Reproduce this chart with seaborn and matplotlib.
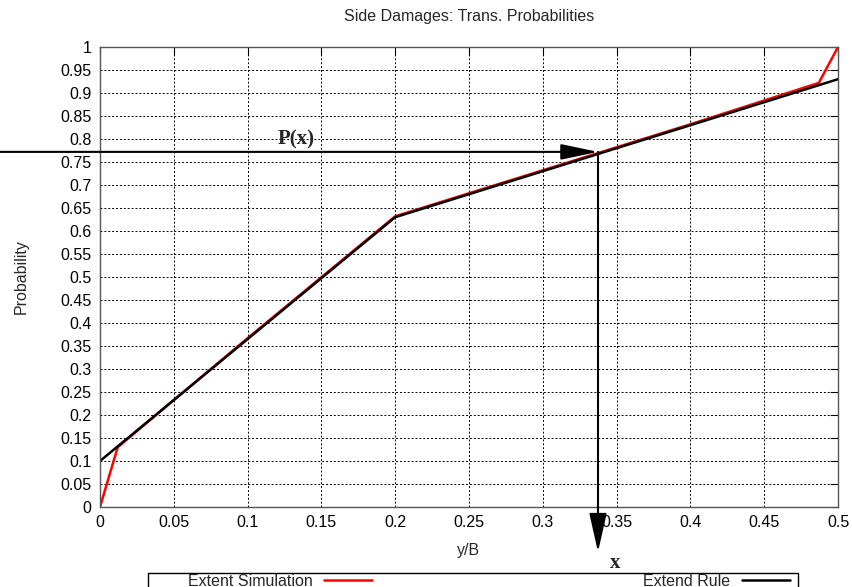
import pandas as pd
import matplotlib.pyplot as plt
import seaborn as sns
from matplotlib.patches import Rectangle

# --- dati ---
sim_x = [0.0, 0.012, 0.1, 0.2, 0.3, 0.4, 0.487, 0.5]
sim_y = [0.0, 0.13, 0.367, 0.632, 0.732, 0.832, 0.922, 1.0]
rule_x = [0.0, 0.2, 0.5]
rule_y = [0.1, 0.63, 0.93]

# punto (P(x), x)
punto_x = 0.3374
punto_p = 0.772

x_ticks = [0, 0.05, 0.1, 0.15, 0.2, 0.25, 0.3, 0.35, 0.4, 0.45, 0.5]
y_ticks = [round(0.05 * i, 2) for i in range(21)]

df = pd.concat([
    pd.DataFrame({"x": sim_x, "p": sim_y, "serie": "Extent Simulation"}),
    pd.DataFrame({"x": rule_x, "p": rule_y, "serie": "Extend Rule"}),
])

sns.set_theme(style="white")
plt.rcParams['font.family'] = ['Liberation Sans', 'DejaVu Sans']
FS = 11.5

fig = plt.figure(figsize=(8.52, 5.87), dpi=100)
ax = fig.add_axes([100 / 852, 80 / 587, 738 / 852, 460 / 587])

sns.lineplot(data=df, x="x", y="p", hue="serie", sort=False, estimator=None,
             palette={"Extent Simulation": "#ff0000", "Extend Rule": "black"},
             linewidth=1.8, ax=ax, legend=False)

ax.set_xlim(0, 0.5)
ax.set_ylim(0, 1)
ax.set_xticks(x_ticks)
ax.set_xticklabels([f"{t:g}" for t in x_ticks])
ax.set_yticks(y_ticks)
ax.set_yticklabels([f"{t:g}" for t in y_ticks])
ax.tick_params(direction="in", length=6, width=0.8, labelsize=FS, colors="black",
               top=True, right=True, pad=6)
ax.grid(True, color="black", linestyle=(0, (2, 2)), linewidth=0.7)
for s in ax.spines.values():
    s.set_color("#555555")
    s.set_linewidth(1.0)

ax.set_title("Side Damages: Trans. Probabilities", fontsize=FS, pad=19)
ax.set_xlabel("y/B", fontsize=FS, labelpad=9)
ax.set_ylabel("Probability", fontsize=FS, labelpad=23)

# frecce P(x) e x
ax.annotate("", xy=(punto_x, punto_p), xycoords="data",
            xytext=(0, punto_p), textcoords=("figure fraction", "data"),
            arrowprops=dict(arrowstyle="-|>,head_length=1.9,head_width=0.4",
                            color="black", lw=1.5, shrinkA=0, shrinkB=0),
            annotation_clip=False)
ax.annotate("", xy=(punto_x, 35 / 587), xycoords=("data", "figure fraction"),
            xytext=(punto_x, punto_p), textcoords="data",
            arrowprops=dict(arrowstyle="-|>,head_length=2.0,head_width=0.45",
                            color="black", lw=1.5, shrinkA=0, shrinkB=0),
            annotation_clip=False)
ax.text(0.1328, 0.8, "P(x)", fontsize=15, fontweight="bold",
        family=["Liberation Serif", "DejaVu Serif"], ha="center", va="center")
ax.text(0.349, -0.122, "x", fontsize=15, fontweight="bold",
        family=["Liberation Serif", "DejaVu Serif"], ha="center", va="center",
        clip_on=False)

# legenda in basso
fig.patches.append(Rectangle((148 / 852, -0.02), 650 / 852, 14 / 587 + 0.02,
                             transform=fig.transFigure, fill=False,
                             edgecolor="black", linewidth=1.0))
handles = [plt.Line2D([], [], color="#ff0000", lw=1.8),
           plt.Line2D([], [], color="black", lw=1.8)]
fig.legend(handles, ["Extent Simulation", "Extend Rule"], ncol=2,
           markerfirst=False, frameon=False, fontsize=FS,
           loc="center left", bbox_to_anchor=(188 / 852, 6 / 587),
           handlelength=3.0, handletextpad=0.7, columnspacing=17.0,
           borderpad=0, borderaxespad=0)

plt.savefig("out.png", dpi=100)
